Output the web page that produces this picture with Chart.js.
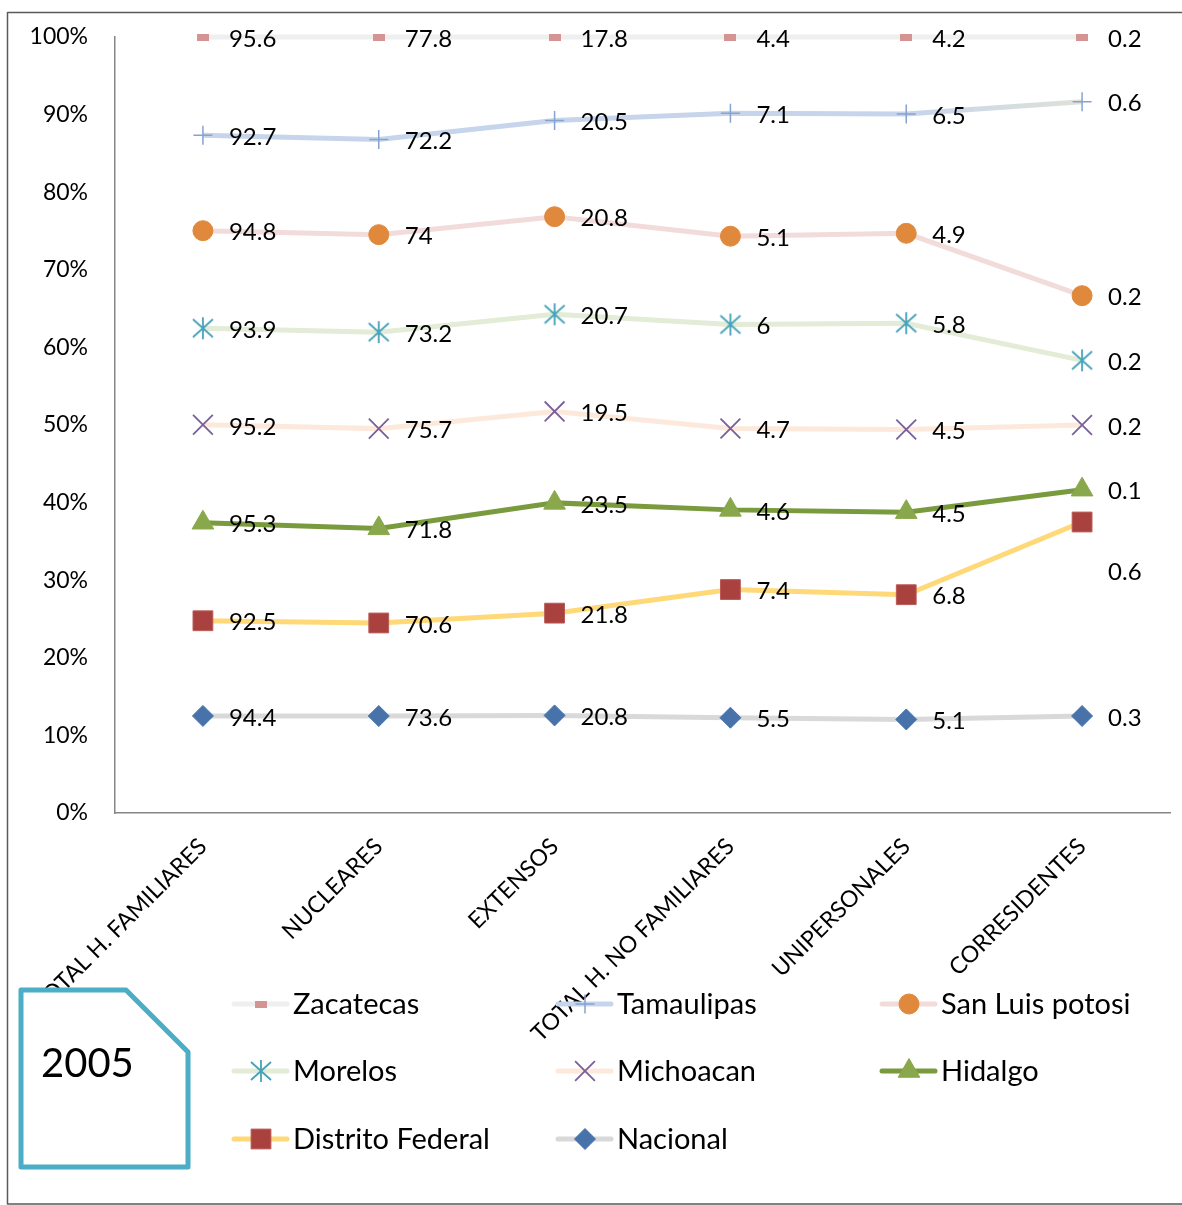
<!DOCTYPE html>
<html>
<head>
<meta charset="utf-8">
<script src="https://cdn.jsdelivr.net/npm/chart.js@4/dist/chart.umd.min.js"></script>
<style>
  html, body { margin: 0; padding: 0; background: #ffffff; }
  #wrap { position: relative; width: 1182px; height: 1205px; overflow: hidden; }
</style>
</head>
<body>
<div id="wrap"><canvas id="c" width="1182" height="1205"></canvas></div>
<script>
// Household types (categories on the x axis)
const categories = ['TOTAL H. FAMILIARES', 'NUCLEARES', 'EXTENSOS', 'TOTAL H. NO FAMILIARES', 'UNIPERSONALES', 'CORRESIDENTES'];

// Percent of households by type, per state (2005)
const nacional        = [94.4, 73.6, 20.8, 5.5, 5.1, 0.3];
const distritoFederal = [92.5, 70.6, 21.8, 7.4, 6.8, 0.6];
const hidalgo         = [95.3, 71.8, 23.5, 4.6, 4.5, 0.1];
const michoacan       = [95.2, 75.7, 19.5, 4.7, 4.5, 0.2];
const morelos         = [93.9, 73.2, 20.7, 6, 5.8, 0.2];
const sanLuisPotosi   = [94.8, 74, 20.8, 5.1, 4.9, 0.2];
const tamaulipas      = [92.7, 72.2, 20.5, 7.1, 6.5, 0.6];
const zacatecas       = [95.6, 77.8, 17.8, 4.4, 4.2, 0.2];

const yearLabel = '2005';
const yTickStep = 10;

const FONT = 'Lato, "Open Sans", sans-serif';

// Asterisk marker (vertical bar + X)
function asteriskMarker(color, w, h) {
  const cv = document.createElement('canvas');
  cv.width = w + 4; cv.height = h + 4;
  const g = cv.getContext('2d');
  const cx = cv.width / 2, cy = cv.height / 2;
  g.strokeStyle = color; g.lineWidth = 1.8; g.lineCap = 'butt';
  g.beginPath();
  g.moveTo(cx, cy - h / 2); g.lineTo(cx, cy + h / 2);
  g.moveTo(cx - w / 2, cy - h / 2 + 2); g.lineTo(cx + w / 2, cy + h / 2 - 2);
  g.moveTo(cx + w / 2, cy - h / 2 + 2); g.lineTo(cx - w / 2, cy + h / 2 - 2);
  g.stroke();
  return cv;
}

// Short bar marker
function barMarker(color, w, h) {
  const cv = document.createElement('canvas');
  cv.width = w; cv.height = h;
  const g = cv.getContext('2d');
  g.fillStyle = color;
  g.fillRect(0, 0, w, h);
  return cv;
}

const starMark = asteriskMarker('#46a2b9', 20, 22);
const dashMark = barMarker('#d49494', 12, 7);

// Series, bottom of the stack first
const series = [
  { label: 'Nacional',         values: nacional,        line: '#d9d9d9', style: 'rectRot',  fill: '#4773aa', stroke: '#4773aa', r: 10.5, bw: 1 },
  { label: 'Distrito Federal', values: distritoFederal, line: '#ffd978', style: 'rect',     fill: '#a9423f', stroke: '#bb5a57', r: 14,   bw: 1 },
  { label: 'Hidalgo',          values: hidalgo,         line: '#7a9a3e', style: 'triangle', fill: '#88a84b', stroke: '#88a84b', r: 12.5, bw: 1 },
  { label: 'Michoacan',        values: michoacan,       line: '#fde9db', style: 'crossRot', fill: '#7a5f99', stroke: '#7a5f99', r: 14,   bw: 1.8 },
  { label: 'Morelos',          values: morelos,         line: '#e3ecd6', style: starMark,   fill: '#46a2b9', stroke: '#46a2b9', r: 11,   bw: 1.8 },
  { label: 'San Luis potosi',  values: sanLuisPotosi,   line: '#f2dcdb', style: 'circle',   fill: '#e0893c', stroke: '#e0893c', r: 10,   bw: 1 },
  { label: 'Tamaulipas',       values: tamaulipas,      line: '#c6d5eb', style: 'cross',    fill: '#86a3cf', stroke: '#86a3cf', r: 9.5,  bw: 1.5 },
  { label: 'Zacatecas',        values: zacatecas,       line: '#efefef', style: dashMark,   fill: '#d49494', stroke: '#d49494', r: 6,    bw: 1 }
];

// 100 % stacking: each series' share of the category total
const totals = categories.map((_, i) => series.reduce((s, d) => s + d.values[i], 0));

const datasets = series.map(s => ({
  label: s.label,
  values: s.values,
  data: s.values.map((v, i) => v / totals[i] * 100),
  borderColor: s.line,
  borderWidth: 5,
  tension: 0,
  fill: false,
  clip: false,
  pointStyle: s.style,
  pointRadius: s.r,
  pointHoverRadius: s.r,
  pointBackgroundColor: s.fill,
  pointBorderColor: s.stroke,
  pointBorderWidth: s.bw,
  segment: s.label === 'Tamaulipas' ? {
    borderColor: c => {
      if (c.p1DataIndex !== categories.length - 1) return undefined;
      const g = c.chart.ctx.createLinearGradient(c.p0.x, 0, c.p1.x, 0);
      g.addColorStop(0, '#c6d5eb');
      g.addColorStop(1, '#e0e2d9');
      return g;
    }
  } : undefined
}));

// Per-point vertical nudges for value labels that would collide
const labelNudge = { 'Distrito Federal': { 5: 50 } };

const valueLabels = {
  id: 'valueLabels',
  afterDatasetsDraw(chart) {
    const ctx = chart.ctx;
    ctx.save();
    ctx.font = '24px ' + FONT;
    ctx.fillStyle = '#000000';
    ctx.textAlign = 'left';
    ctx.textBaseline = 'middle';
    chart.data.datasets.forEach((ds, di) => {
      const meta = chart.getDatasetMeta(di);
      const nudge = labelNudge[ds.label] || {};
      meta.data.forEach((pt, i) => {
        const dy = nudge[i] !== undefined ? nudge[i] : 2;
        ctx.fillText(String(ds.values[i]), pt.x + 26, pt.y + dy);
      });
    });
    ctx.restore();
  }
};

// Legend in three columns, listed from the top of the stack down
const gridLegend = {
  id: 'gridLegend',
  afterDraw(chart) {
    const ctx = chart.ctx;
    const cols = [232, 556, 880];
    const rows = [1004, 1071, 1139];
    const items = chart.data.datasets.slice().reverse();
    ctx.save();
    items.forEach((ds, k) => {
      const x0 = cols[k % 3], y = rows[Math.floor(k / 3)];
      ctx.strokeStyle = ds.borderColor;
      ctx.lineWidth = 5;
      ctx.lineCap = 'round';
      ctx.beginPath();
      ctx.moveTo(x0 + 2, y); ctx.lineTo(x0 + 55, y);
      ctx.stroke();
      ctx.fillStyle = ds.pointBackgroundColor;
      ctx.strokeStyle = ds.pointBorderColor;
      ctx.lineWidth = ds.pointBorderWidth;
      ctx.lineCap = 'butt';
      Chart.helpers.drawPoint(ctx, { pointStyle: ds.pointStyle, radius: ds.pointRadius, borderWidth: ds.pointBorderWidth, rotation: 0 }, x0 + 29, y);
      ctx.fillStyle = '#000000';
      ctx.font = '29px ' + FONT;
      ctx.textAlign = 'left';
      ctx.textBaseline = 'middle';
      ctx.fillText(ds.label, x0 + 61, y + 1);
    });
    ctx.restore();
  }
};

// Year tag with a clipped corner, and the outer frame
const yearTag = {
  id: 'yearTag',
  afterDraw(chart) {
    const ctx = chart.ctx;
    ctx.save();
    ctx.beginPath();
    ctx.moveTo(21, 990);
    ctx.lineTo(126, 990);
    ctx.lineTo(188, 1052);
    ctx.lineTo(188, 1167);
    ctx.lineTo(21, 1167);
    ctx.closePath();
    ctx.fillStyle = '#ffffff';
    ctx.fill();
    ctx.lineWidth = 5;
    ctx.lineJoin = 'round';
    ctx.strokeStyle = '#4badc6';
    ctx.stroke();
    ctx.fillStyle = '#000000';
    ctx.font = '40px ' + FONT;
    ctx.textAlign = 'left';
    ctx.textBaseline = 'alphabetic';
    ctx.fillText(yearLabel, 41, 1077);

    ctx.strokeStyle = '#5a5a5a';
    ctx.lineWidth = 1.5;
    ctx.strokeRect(7.5, 12.5, 1200, 1191.5);
    ctx.restore();
  }
};

new Chart(document.getElementById('c'), {
  type: 'line',
  data: { labels: categories, datasets },
  plugins: [valueLabels, gridLegend, yearTag],
  options: {
    responsive: false,
    animation: false,
    devicePixelRatio: 1,
    layout: { autoPadding: false, padding: { top: 37, right: 12, left: 0, bottom: 0 } },
    plugins: { legend: { display: false }, tooltip: { enabled: false } },
    scales: {
      x: {
        offset: true,
        grid: { display: false, drawTicks: false },
        border: { display: true, color: '#868686', width: 1.5 },
        ticks: {
          autoSkip: false, maxRotation: 45, minRotation: 45,
          font: { family: FONT, size: 23 }, color: '#000000', padding: 20
        },
        afterFit(s) { s.height = 392; s.paddingLeft = 0; s.paddingRight = 0; }
      },
      y: {
        stacked: true,
        min: 0, max: 100,
        grid: { display: false, drawTicks: false },
        border: { display: true, color: '#868686', width: 1.5 },
        ticks: {
          stepSize: yTickStep,
          callback: v => v + '%',
          font: { family: FONT, size: 23 }, color: '#000000', padding: 27
        },
        afterFit(s) { s.width = 115; s.paddingTop = 0; s.paddingBottom = 0; }
      }
    }
  }
});
</script>
</body>
</html>
